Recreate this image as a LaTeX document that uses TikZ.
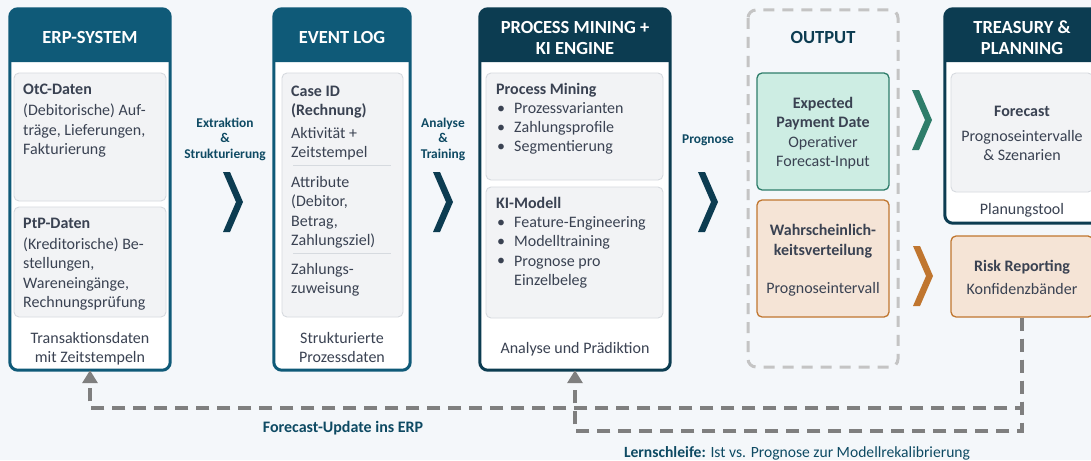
\documentclass[tikz,border=0pt]{standalone}
\usepackage{fontspec}
\setmainfont{Carlito}
\usetikzlibrary{arrows.meta}
\definecolor{bgc}{HTML}{F4F7FA}
\definecolor{hdA}{HTML}{0F5A78}
\definecolor{hdB}{HTML}{0C3C51}
\definecolor{innerc}{HTML}{F2F3F5}
\definecolor{innerl}{HTML}{D6DADF}
\definecolor{txtc}{HTML}{3A4252}
\definecolor{lbl}{HTML}{0E4A63}
\definecolor{grnF}{HTML}{CDEDE3}
\definecolor{grnD}{HTML}{2E7D6A}
\definecolor{orF}{HTML}{F5E4D6}
\definecolor{orD}{HTML}{C0762F}
\definecolor{dashc}{HTML}{7F7F7F}
\definecolor{dashl}{HTML}{C4C4C4}
\newcommand\hdrfill[3]{\fill[#3] (#1,62) -- (#1,22) [rounded corners=8pt] -- (#1,9) -- (#2,9) -- (#2,22) [sharp corners] -- (#2,62) -- cycle;}
\newcommand\chev[3]{\fill[#3] (#1,#2) -- ++(7,0) -- ++(13,30) -- ++(-13,30) -- ++(-7,0) -- ++(13,-30) -- cycle;}
\begin{document}
\begin{tikzpicture}[x=1pt,y=-1pt,
  outerbox/.style={fill=white, draw=none, rounded corners=8pt, inner sep=0pt},
  border/.style={line width=3pt, rounded corners=8pt},
  innerbox/.style={fill=innerc, draw=innerl, line width=0.9pt, rounded corners=5pt, inner sep=0pt},
  body/.style={font=\fontsize{16}{19.3}\selectfont, text=txtc, inner sep=0pt, align=left, anchor=mid west, yshift=-3pt},
  bodyc/.style={body, align=center, anchor=mid},
  hdtxt/.style={font=\bfseries\fontsize{18.5}{21}\selectfont, text=white, align=center, anchor=mid, inner sep=0pt, yshift=-3pt},
  lab/.style={font=\bfseries\fontsize{13.4}{15.5}\selectfont, text=lbl, align=center, anchor=mid, inner sep=0pt, yshift=-3pt},
  sep/.style={draw=innerl, line width=1pt},
  fb/.style={draw=dashc, line width=3.3pt, dash pattern=on 13pt off 8pt, -{Triangle[width=15pt,length=13pt]}},
  outdash/.style={draw=dashl, line width=3pt, dash pattern=on 11pt off 8pt, rounded corners=8pt},
  colbox/.style={line width=1.3pt, rounded corners=5pt, inner sep=0pt}
]
\useasboundingbox (0,0) rectangle (1091,460);
\fill[bgc] (0,0) rectangle (1091,460);
\clip (0,0) rectangle (1091,460);

% ---------- ERP ----------
\node[outerbox, minimum width=160pt, minimum height=361pt] (erp) at (90,189.5) {};
\hdrfill{10}{170}{hdA}
\draw[border, hdA] (erp.north west) rectangle (erp.south east);
\node[hdtxt] (erpH) at (90,38) {ERP-SYSTEM};
\node[innerbox, minimum width=152pt, minimum height=128pt] (otc) at (90,137) {};
\node[innerbox, minimum width=152pt, minimum height=110pt] (ptp) at (90,262) {};
\node[body] (otcT) at (23,149) {\textbf{OtC-Daten}\\[1.5pt](Debitorische) Auf-\\träge, Lieferungen,\\Fakturierung};
\node[body] (ptpT) at (23,302) {\textbf{PtP-Daten}\\[2pt](Kreditorische) Be-\\stellungen,\\Wareneingänge,\\Rechnungsprüfung};
\node[bodyc] (erpF) at (90,357) {Transaktionsdaten\\mit Zeitstempeln};

% ---------- EVENT LOG ----------
\node[outerbox, minimum width=136pt, minimum height=361pt] (ev) at (342,189.5) {};
\hdrfill{274}{410}{hdA}
\draw[border, hdA] (ev.north west) rectangle (ev.south east);
\node[hdtxt] (evH) at (342,38) {EVENT LOG};
\node[innerbox, minimum width=121pt, minimum height=244pt] (evI) at (342.5,195) {};
\node[body] (evA) at (291,152) {\textbf{Case ID}\\\textbf{(Rechnung)}\\[3pt]Aktivität +\\Zeitstempel};
\draw[sep] (293,165) -- (391,165);
\node[body] (evB) at (291,240) {Attribute\\(Debitor,\\Betrag,\\Zahlungsziel)};
\draw[sep] (293,253) -- (391,253);
\node[body] (evC) at (291,288.5) {Zahlungs-\\zuweisung};
\node[bodyc] (evF) at (342,357) {Strukturierte\\Prozessdaten};

% ---------- PROCESS MINING ----------
\node[outerbox, minimum width=190pt, minimum height=361pt] (pm) at (575,189.5) {};
\hdrfill{480}{670}{hdB}
\draw[border, hdB] (pm.north west) rectangle (pm.south east);
\node[hdtxt] (pmH) at (575,49) {PROCESS MINING +\\KI ENGINE};
\node[innerbox, minimum width=177pt, minimum height=107pt] (pmI1) at (574.5,126.5) {};
\node[innerbox, minimum width=177pt, minimum height=131pt] (pmI2) at (574.5,252.5) {};
\node[body] (pmA) at (496,89) {\textbf{Process Mining}};
\node[body] (pmAb) at (497,146.5) {•\\•\\•};
\node[body] (pmAt) at (514,146.5) {Prozessvarianten\\Zahlungsprofile\\Segmentierung};
\node[body] (pmB) at (496,203) {\textbf{KI-Modell}};
\node[body] (pmBb) at (497,260.5) {•\\•\\•};
\node[body] (pmBt) at (514,280) {Feature-Engineering\\Modelltraining\\Prognose pro\\Einzelbeleg};
\node[bodyc] (pmF) at (575,348) {Analyse und Prädiktion};

% ---------- OUTPUT ----------
\draw[outdash] (748,10) rectangle (898,367);
\node[font=\bfseries\fontsize{18.5}{21}\selectfont, text=hdB, inner sep=0pt, anchor=mid, yshift=-3pt] (outH) at (823,38) {OUTPUT};
\node[colbox, fill=grnF, draw=grnD, minimum width=132pt, minimum height=117pt] (epd) at (823,131.5) {};
\node[bodyc] (epdT) at (823,161) {\textbf{Expected}\\\textbf{Payment Date}\\Operativer\\Forecast-Input};
\node[colbox, fill=orF, draw=orD, minimum width=132pt, minimum height=117pt] (wv) at (823,258.5) {};
\node[bodyc] (wvT) at (823,288) {\textbf{Wahrscheinlich-}\\\textbf{keitsverteilung}\\[19pt]Prognoseintervall};

% ---------- TREASURY ----------
\node[outerbox, minimum width=154pt, minimum height=214pt] (tr) at (1022,116) {};
\hdrfill{945}{1099}{hdB}
\draw[border, hdB] (tr.north west) rectangle (tr.south east);
\node[hdtxt] (trH) at (1022,49) {TREASURY \&\\PLANNING};
\node[innerbox, minimum width=142pt, minimum height=119pt] (trI) at (1022,132.5) {};
\node[bodyc] (trT) at (1022,155) {\textbf{Forecast}\\[5pt]Prognoseintervalle\\\& Szenarien};
\node[bodyc] (trF) at (1022,209) {Planungstool};

\node[colbox, fill=orF, draw=orD, minimum width=142pt, minimum height=81pt] (risk) at (1022,276.5) {};
\node[bodyc] (riskT) at (1022,289) {\textbf{Risk Reporting}\\[4pt]Konfidenzbänder};

% ---------- chevrons ----------
\chev{223}{172}{hdB}
\chev{433}{172}{hdB}
\chev{698}{172}{hdB}
\chev{912}{90}{grnD}
\chev{913}{246}{orD}

\node[lab] (l1) at (225,153) {Extraktion\\\&\\Strukturierung};
\node[lab] (l2) at (443,153) {Analyse\\\&\\Training};
\node[lab] (l3) at (708,138) {Prognose};

% ---------- feedback loops ----------
\coordinate (c1) at (1022,408);
\coordinate (c2) at (1022,431);
\draw[fb] (risk.south) -- (c1) -| (erp.south);
\draw[fb] (risk.south) -- (c2) -| (pm.south);
\node[font=\bfseries\fontsize{16}{19}\selectfont, text=lbl, inner sep=0pt, anchor=mid, yshift=-3pt] (fu) at (343,427) {Forecast-Update ins ERP};
\node[font=\fontsize{15.6}{18}\selectfont, text=lbl, inner sep=0pt, anchor=mid, yshift=-3pt] (ls) at (797,452) {\textbf{Lernschleife:} Ist vs. Prognose zur Modellrekalibrierung};
\end{tikzpicture}
\end{document}
